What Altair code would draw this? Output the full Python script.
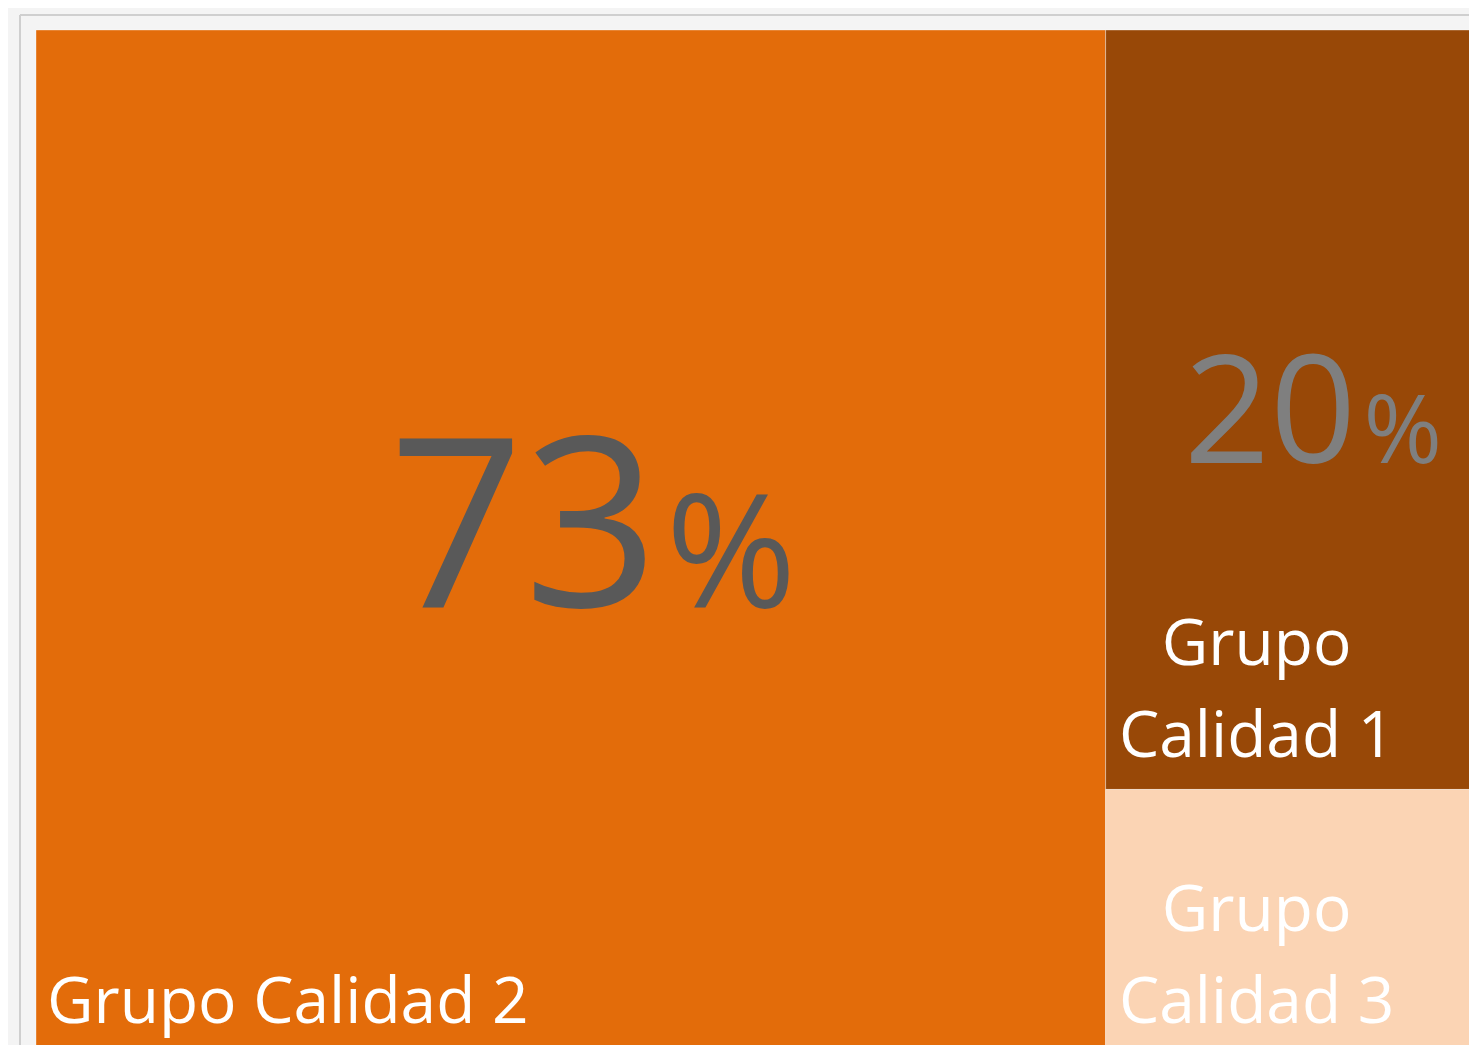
import altair as alt
import pandas as pd

# ---- data ----
groups = ["Grupo Calidad 2", "Grupo Calidad 1", "Grupo Calidad 3"]
label_text = ["Grupo Calidad 2", "Grupo\nCalidad 1", "Grupo\nCalidad 3"]
values = [73, 20, 7]
colors = ["#E36C0A", "#984807", "#FBD4B4"]
pct_number = ["73", "20", ""]

# ---- slice-and-dice treemap layout computed from the values ----
total = float(sum(values))
first = values[0] / total
rest = sum(values[1:])
rows = []
rows.append(dict(group=groups[0], label=label_text[0], x0=0.0, x1=first, y0=0.0, y1=1.0))
acc = 0.0
for g, lab, v in zip(groups[1:], label_text[1:], values[1:]):
    h = v / rest
    rows.append(dict(group=g, label=lab, x0=first, x1=1.0, y0=acc, y1=acc + h))
    acc += h
df = pd.DataFrame(rows)
df["xc"] = (df.x0 + df.x1) / 2
df["yc"] = (df.y0 + df.y1) / 2
df["num"] = pct_number
df["pct"] = ["%" if n else "" for n in pct_number]

W, H = 1433, 1015
xs = alt.Scale(domain=[0, 0.978], nice=False, zero=False)
ys = alt.Scale(domain=[0, 0.99], nice=False, zero=False, reverse=True)
FONT = "Open Sans"
LH = 92

base = alt.Chart(df)

rects = base.mark_rect(stroke="white", strokeOpacity=0.35, strokeWidth=1).encode(
    x=alt.X("x0:Q", scale=xs, axis=None),
    x2="x1:Q",
    y=alt.Y("y0:Q", scale=ys, axis=None),
    y2="y1:Q",
    color=alt.Color("group:N", scale=alt.Scale(domain=groups, range=colors), legend=None),
)

# group name labels (last baseline 32px above the rectangle's bottom)
lab_big = base.transform_filter(alt.datum.group == groups[0]).mark_text(
    font=FONT, fontSize=64, color="white", align="left", baseline="alphabetic",
    lineBreak="\n", lineHeight=LH, dx=11, dy=-32,
).encode(x=alt.X("x0:Q", scale=xs), y=alt.Y("y1:Q", scale=ys), text="label:N")

lab_small = base.transform_filter(alt.datum.group != groups[0]).mark_text(
    font=FONT, fontSize=64, color="white", align="center", baseline="alphabetic",
    lineBreak="\n", lineHeight=LH, dx=151, dy=-32 - LH,
).encode(x=alt.X("x0:Q", scale=xs), y=alt.Y("y1:Q", scale=ys), text="label:N")

# percentage labels
d2 = base.transform_filter(alt.datum.group == groups[0])
d1 = base.transform_filter(alt.datum.group == groups[1])
enc = dict(x=alt.X("xc:Q", scale=xs), y=alt.Y("yc:Q", scale=ys))

n73 = d2.mark_text(font=FONT, fontSize=236, color="#595959", align="right",
                   baseline="alphabetic", dx=88, dy=64).encode(text="num:N", **enc)
p73 = d2.mark_text(font=FONT, fontSize=158, color="#595959", align="left",
                   baseline="alphabetic", dx=95, dy=64).encode(text="pct:N", **enc)
n20 = d1.mark_text(font=FONT, fontSize=151, color="#7F7F7F", align="right",
                   baseline="alphabetic", dx=53, dy=53).encode(text="num:N", **enc)
p20 = d1.mark_text(font=FONT, fontSize=95, color="#7F7F7F", align="left",
                   baseline="alphabetic", dx=60, dy=53).encode(text="pct:N", **enc)

# outer frame lines (top and left)
frame_top = alt.Chart(pd.DataFrame({"k": [0]})).mark_rule(color="#CFCFCF", strokeWidth=2).encode(
    x=alt.value(-16), x2=alt.value(W + 20), y=alt.value(-15)
)
frame_left = alt.Chart(pd.DataFrame({"k": [0]})).mark_rule(color="#CFCFCF", strokeWidth=2).encode(
    x=alt.value(-16), y=alt.value(-15), y2=alt.value(H + 20)
)

chart = alt.layer(
    frame_top, frame_left, rects, lab_big, lab_small, n73, p73, n20, p20
).properties(
    width=W, height=H,
    autosize=alt.AutoSizeParams(type="none"),
    padding={"left": 28, "top": 22, "right": 0, "bottom": 0},
    background="#F4F4F4",
).configure_view(stroke=None)

chart.save("out.html", embed_options={"renderer": "svg", "actions": False})
